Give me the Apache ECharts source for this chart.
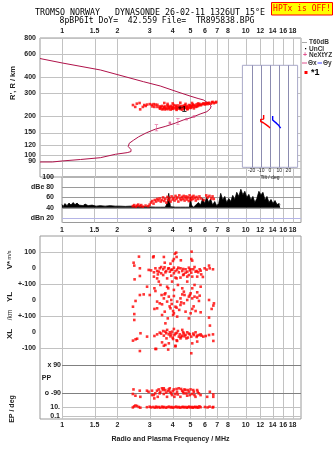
<!DOCTYPE html>
<html><head><meta charset="utf-8">
<script src="https://cdn.jsdelivr.net/npm/echarts@6/dist/echarts.min.js"></script>
<style>html,body{margin:0;padding:0;background:#fff}#c{width:335px;height:451px}</style>
</head><body><div id="c"></div>
<script>
// ---------- tick labels ----------
const freqTicks = [1,1.5,2,3,4,5,6,7,8,10,12,14,16,18];
const heightTicks = [800,600,400,300,200,150,120,100,90,80];
const dbTicks = [100,80,60,40,20];
const dbTickText = {100:'100',80:'dBe 80',60:'60',40:'40',20:'dBn 20'};
const tiltTicks = [-20,-10,0,10,20];
const bandTicks = [500,400,300,200,100,0,-100];
const bandTickText = {500:'100',400:'0',300:'+-100',200:'0',100:'+-100',0:'0','-100':'-100'};
const ppTicks = [90,-90];
const epTicks = [10,0.1];

// ---------- virtual height profile (freq MHz, height km) ----------
const profileFreq = [0.757,1.0,1.615,2.77,3.42,4.22,4.98,5.5,5.88,6.24,6.48,6.4,6.14,5.64,5.09,4.56,4.13,3.64,3.21,2.87,2.61,2.45,2.32,2.29,2.37,2.37,2.26,1.95,1.615,1.26,1.0,0.886,0.757];
const profileHeight = [556,514,454,369,342,309,286,274,267,253,240,228,217,208,196,187,177,167,159,149,139,131,124,117,111,107,105,102,96,93,90.6,89,89];

// NeXtYZ points
const nextyzBars = [[3.26,163],[4.27,182]];
const nextyzPts = [[3.86,178],[4.76,190],[5.22,199]];
const starPt = [[4.41,230]];

// echoes in upper panel (freq, km)
const echoHeights = [[2.43,244],[2.5,236],[2.55,250],[2.64,253],[2.66,226],[2.75,236],[2.85,240],
[2.8,244],[2.9,246],[3.0,248],[3.08,245],[3.15,248],[3.22,246],[3.3,245],
[3.1,238],[3.18,236],[3.3,236],[3.4,238],
[3.4,231],[3.45,235],[3.5,240],[3.55,228],[3.6,233],[3.65,238],[3.7,230],[3.75,242],[3.8,227],[3.85,235],[3.9,240],[3.95,229],[4.0,236],[4.05,244],[4.1,231],[4.15,238],[4.2,227],[4.25,234],[4.3,242],[4.35,229],[4.4,236],[4.45,240],[4.5,231],[4.55,237],[4.6,228],[4.65,243],[4.7,233],[4.75,239],[4.8,230],[4.85,236],[4.9,244],[4.95,232],[5.0,238],[5.05,241],[5.1,235],[5.15,246],[5.2,238],[5.3,242],[5.35,236],[5.4,247],[5.5,240],[5.55,244],[5.6,249],[5.7,243],[5.8,247],[5.9,251],[6.0,246],[6.1,252],[6.2,248],[6.3,254],[6.45,250],[6.55,256],[6.7,252],[6.85,255],[6.9,258],
[3.6,253],[3.75,249],[4.0,251],[4.4,254],[4.7,249],[5.1,253],[5.5,251],[6.6,258],
[3.5,226],[3.9,225],[4.2,224],[4.5,225],[4.8,226],[3.7,227],
[3.42,229],[3.62,226],[3.82,232],[4.02,228],[4.22,232],[4.42,227],[4.62,233],[4.82,228],[5.02,232],[5.22,230],[5.42,238],[3.58,236],[3.78,238],[3.98,233],[4.18,242],[4.38,234],[4.58,240],[4.78,236],[4.98,242],[5.18,244],[5.62,245],[5.85,250],[6.05,250],[6.25,252]];

// tilt inset (deg, km)
const tiltXDeg = [-6.9,-6.9,-10.1,-10.1,-7.2,-4.3,-1.8,0];
const tiltXHeight = [204,190,189,182,178,172,167,162];
const tiltYDeg = [2.9,2.9,4.3,7.2,9.4,11.6];
const tiltYHeight = [201,187,182,176,170,162];

// amplitude panel: noise envelope (freq, dB) and echo amplitude (freq, dB)
const noiseFreq = [1.0,1.013,1.038,1.065,1.092,1.12,1.148,1.178,1.208,1.239,1.27,1.302,1.336,1.387,1.458,1.533,1.613,1.717,1.83,1.948,2.074,2.21,2.35,2.505,2.667,2.84,3.025,3.22,3.43,3.65,3.75,3.81,3.84,3.89,4.14,4.41,4.7,4.94,5.0,5.07,5.2,5.33,5.53,5.68,5.83,5.98,6.13,6.29,6.44,6.61,6.78,6.95,7.13,7.31,7.5,7.69,7.88,8.09,8.29,8.5,8.72,8.94,9.17,9.41,9.65,9.89,10.14,10.4,10.67,10.94,11.22,11.5,11.8,12.1,12.41,12.73,13.05,13.39,13.73,14.08,14.44,14.8,15.18,15.43];
const noiseDb = [46,42,48,44,49,45,50,46,49,45,48,44,47,44,45,43,44,43,44,43,43,42.5,43,42,42,42,41.5,41,41,41,50,68,60,42,41,41,41,41,60,45,41,42,50,45,58,48,60,50,57,45,52,44,48,68,55,62,50,58,52,64,56,70,62,76,65,72,60,66,55,62,50,58,72,65,70,55,62,50,56,48,54,46,48,46];
const echoDb = [[2.43,43],[2.47,45],[2.52,42],[2.56,44],[2.6,46],[2.65,43],[2.7,45],[2.75,42],[2.85,44],[2.95,43],[3.0,46],[3.05,50],[3.1,53],[3.15,48],[3.2,55],[3.25,52],[3.3,57],[3.35,54],[3.4,58],[3.45,52],[3.5,55],[3.55,60],[3.6,53],[3.65,57],[3.7,50],[3.75,61],[3.8,55],[3.85,58],[3.9,52],[3.95,62],[4.0,56],[4.05,59],[4.1,54],[4.15,63],[4.2,57],[4.25,60],[4.3,52],[4.35,64],[4.4,58],[4.45,55],[4.5,61],[4.55,57],[4.6,63],[4.65,54],[4.7,59],[4.75,62],[4.8,56],[4.85,60],[4.9,53],[4.95,64],[5.0,58],[5.05,55],[5.1,61],[5.15,57],[5.2,63],[5.3,59],[5.35,54],[5.4,61],[5.5,57],[5.6,62],[5.7,58],[5.9,55],[6.1,64],[6.2,60],[6.35,63],[6.5,58],[6.6,62],[6.7,57]];

// lower panel: V* (m/s), YL (km), XL (km), PP (deg), EP (deg)
const vStar = [[5.07,102],[4.18,96],[2.45,33],[2.47,15],[2.62,71],[3.13,67],[3.58,69],[4.06,56],[4.01,44],[4.43,48],[5.05,56],[5.11,46],[3.62,33],[3.89,27],[6.31,15],[6.36,-2],[6.63,-8],[6.12,-10],[2.65,-2],[2.96,-12],[3.05,-15],[3.16,-27],[3.29,-19],[3.40,-2],[3.46,6],[3.55,-8],[3.61,4],[3.69,-19],[3.78,-4],[3.86,-23],[3.97,-10],[4.06,2],[4.14,-19],[4.23,-10],[4.32,-27],[4.41,-2],[4.51,-19],[4.60,-40],[4.70,-8],[4.80,-23],[4.90,2],[4.96,-15],[5.05,-29],[5.18,-8],[5.26,6],[5.40,-19],[5.51,-27],[5.61,-8],[5.72,-40],[5.84,-56],[5.97,-2],[3.16,-54],[3.29,-65],[3.55,-44],[3.73,-65],[3.93,-48],[4.14,-60],[4.41,-60],[4.80,-54],[5.11,-54],[5.44,-54],[3.32,-40],[3.46,-33],[4.56,-44],[4.90,-44],[2.48,-71],[2.65,-50],[3.36,-85],[3.97,-85],[4.20,-65],[4.80,-85],[4.11,89],[4.2,69],[3.15,73],[3.81,-2],[4.29,2],[4.56,-6],[5.33,-23],[3.93,-12],[3.65,-27],[3.22,-2],[3.36,-23],[4.70,-29],[5.01,-8],[5.68,-17],[4.06,-33]];
const yL = [[2.90,83],[3.00,31],[3.18,73],[3.22,56],[3.43,94],[3.61,35],[3.73,83],[3.78,73],[4.06,63],[4.27,94],[4.51,73],[4.60,52],[4.96,31],[5.11,73],[5.26,94],[5.68,83],[5.44,48],[2.65,31],[2.78,35],[2.51,-6],[3.48,31],[3.58,10],[3.65,42],[3.81,21],[3.93,0],[4.06,25],[4.23,-10],[4.41,10],[4.51,35],[4.64,31],[4.80,0],[4.90,21],[5.01,42],[5.11,10],[5.26,21],[5.44,15],[5.61,27],[6.31,0],[6.71,-21],[3.29,-10],[3.40,-21],[3.50,-27],[3.73,-10],[4.60,-21],[5.56,-6],[2.43,-42],[2.47,-88],[3.18,-56],[3.29,-52],[3.50,-94],[3.62,-73],[3.89,-52],[4.06,-83],[4.14,-42],[4.41,-31],[4.70,-73],[5.01,-83],[5.11,-56],[5.33,-69],[5.68,-77],[6.66,-35],[6.52,-56],[4.02,-69],[4.02,-94],[3.85,-40],[4.2,-48],[4.34,-62],[3.95,-25],[4.45,-15],[5.2,-40]];
const xL = [[2.67,-8],[2.43,-54],[2.51,-46],[2.56,-42],[2.90,-29],[3.18,-25],[3.29,-15],[3.40,-4],[3.46,-10],[3.58,-23],[3.65,2],[3.73,13],[3.81,-15],[3.89,-27],[3.97,2],[4.02,-44],[4.09,-19],[4.20,-6],[4.23,-56],[4.32,-29],[4.41,-40],[4.51,-23],[4.60,-10],[4.70,-19],[4.80,-2],[4.84,-35],[4.96,-15],[5.05,-29],[5.22,-19],[5.33,-2],[5.44,-23],[5.56,-19],[5.68,-15],[5.87,-29],[6.05,-25],[6.31,-19],[6.63,-15],[6.66,-56],[4.06,19],[4.51,13],[2.65,-119],[3.22,-106],[3.50,-65],[3.65,-81],[3.81,-71],[4.14,-86],[4.20,-52],[5.11,-71],[5.05,-133],[5.44,-60],[2.47,75],[3.65,54],[3.76,85],[4.23,96],[4.90,85],[6.31,90],[6.38,40],[3.55,6],[3.69,-8],[3.86,-2],[3.93,-15],[4.14,-10],[4.27,6],[4.37,-15],[4.56,-2],[4.64,-27],[4.90,-10],[5.18,-10],[5.40,-31],[5.74,-23],[3.25,-106],[3.58,-86],[3.78,-110],[4.14,-90],[4.0,-35],[4.45,-31],[4.75,-40],[3.7,-40]];
const ppDeg = [[2.45,-65],[2.43,-94],[2.51,-105],[2.65,-73],[2.67,-112],[2.90,-73],[2.96,-80],[3.09,-73],[3.16,-101],[3.18,-122],[3.29,-73],[3.36,-65],[3.43,-80],[3.50,-58],[3.58,-94],[3.65,-69],[3.73,-112],[3.81,-65],[3.89,-80],[3.97,-101],[4.06,-65],[4.14,-94],[4.23,-80],[4.32,-58],[4.41,-112],[4.51,-73],[4.60,-90],[4.70,-69],[4.80,-105],[4.90,-80],[5.01,-65],[5.11,-94],[5.22,-80],[5.33,-112],[5.44,-69],[5.56,-90],[5.68,-101],[6.17,-112],[6.38,-80],[6.66,-112],[6.66,-97],[3.40,-90],[3.55,-69],[3.69,-85],[3.86,-58],[3.93,-90],[4.02,-76],[4.20,-62],[4.27,-97],[4.45,-62],[4.56,-80],[4.64,-65],[4.75,-90],[4.84,-69],[4.96,-101],[5.18,-69],[5.26,-101],[5.48,-80],[3.09,-101],[3.22,-90],[3.32,-112],[3.58,-58],[3.78,-76],[4.09,-112]];
const epDeg = [[2.43,8],[2.47,14],[2.51,22],[2.56,17],[2.62,10],[2.67,7],[2.9,9],[3.0,12],[3.05,8],[3.13,10],[3.2,7],[3.25,12],[3.3,8],[3.36,10],[3.43,7],[3.5,12],[3.55,8],[3.6,10],[3.68,7],[3.75,9],[3.82,12],[3.9,8],[3.95,10],[4.02,7],[4.1,9],[4.18,12],[4.25,8],[4.32,10],[4.4,7],[4.48,9],[4.55,11],[4.62,8],[4.7,10],[4.78,7],[4.85,9],[4.92,12],[5.0,8],[5.08,10],[5.15,7],[5.22,9],[5.3,11],[5.38,8],[5.45,10],[5.52,7],[5.6,14],[5.68,9],[6.0,10],[6.2,8],[6.36,12],[6.6,8],[6.66,10]];

const bandOffsetV = 400, bandOffsetY = 200;

// ---------- chart ----------
const chart = echarts.init(document.getElementById('c'), null, {renderer:'canvas'});
const F = 'Liberation Sans';
const lab = (extra)=>Object.assign({fontSize:7, color:'#222', fontFamily:F, fontWeight:'bold'}, extra||{});
const pair = (a,b)=>a.map((v,i)=>[v,b[i]]);
// grid lines drawn through the axes' own scales (custom series)
const vLines = (xi, yi, vals, refY, color, z)=>({type:'custom', xAxisIndex:xi, yAxisIndex:yi, silent:true, z:z||1, clip:false,
  data: vals.map(v=>[v, refY]),
  renderItem:(params, api)=>{
    const cs = params.coordSys; const x = Math.round(api.coord([api.value(0), api.value(1)])[0]) + 0.5;
    return {type:'line', shape:{x1:x, y1:cs.y, x2:x, y2:cs.y+cs.height}, style:{stroke:color, lineWidth:1}};
  }});
const hLines = (xi, yi, vals, refX, color, z)=>({type:'custom', xAxisIndex:xi, yAxisIndex:yi, silent:true, z:z||1, clip:false,
  data: vals.map(v=>[refX, v]),
  renderItem:(params, api)=>{
    const cs = params.coordSys; const y = Math.round(api.coord([api.value(0), api.value(1)])[1]) + 0.5;
    return {type:'line', shape:{x1:cs.x, y1:y, x2:cs.x+cs.width, y2:y}, style:{stroke:color, lineWidth:1}};
  }});
const red = (xi, yi, data, extra)=>Object.assign({type:'scatter', xAxisIndex:xi, yAxisIndex:yi, data:data, symbol:'rect', symbolSize:2.6,
  itemStyle:{color:'#ff0000'}, silent:true, clip:false, z:3}, extra||{});
const hideAxis = {axisLine:{show:false}, axisTick:{show:false}, axisLabel:{show:false}, splitLine:{show:false}};
const LIGHT = '#c2c2c2';

const option = {
  animation:false,
  backgroundColor:'#ffffff',
  grid:[
    {left:40, top:38, width:261, height:139, show:true, borderColor:'#9a9a9a', borderWidth:1, z:0},
    {left:242.4, top:65.3, width:55.2, height:102, show:true, backgroundColor:'#ffffff', borderColor:'#a8a8c8', borderWidth:1, z:3},
    {left:62, top:177, width:239, height:45.5, show:true, borderColor:'#9a9a9a', borderWidth:1, z:0},
    {left:40, top:236, width:261, height:183, show:true, borderColor:'#9a9a9a', borderWidth:1, z:0},
    {left:62, top:236, width:239, height:183, show:false},
    {left:62, top:400, width:239, height:19, show:false}
  ],
  xAxis:[
    {gridIndex:0, type:'log', min:0.757, max:20, position:'top', axisLine:{show:false}, axisTick:{show:false}, splitLine:{show:false},
      axisLabel:lab({customValues:freqTicks, margin:3})},
    {gridIndex:1, type:'value', min:-30, max:30, axisLine:{show:false}, axisTick:{show:false}, splitLine:{show:false}, z:5,
      axisLabel:{customValues:tiltTicks, fontSize:5, margin:1, color:'#222', fontFamily:F},
      name:'Tilt / deg', nameLocation:'middle', nameGap:7.5, nameTextStyle:{fontSize:5, color:'#222', fontFamily:F}},
    {gridIndex:2, type:'log', min:1, max:20, axisLine:{show:false}, axisTick:{show:false}, splitLine:{show:false},
      axisLabel:lab({customValues:freqTicks, margin:4})},
    {gridIndex:3, type:'log', min:0.757, max:20, axisLine:{show:false}, axisTick:{show:false}, splitLine:{show:false},
      axisLabel:lab({customValues:freqTicks, margin:3}),
      name:'Radio and Plasma Frequency / MHz', nameLocation:'middle', nameGap:17, nameTextStyle:{fontSize:7, color:'#222', fontFamily:F, fontWeight:'bold'}},
    Object.assign({gridIndex:4, type:'log', min:1, max:20}, hideAxis),
    Object.assign({gridIndex:5, type:'log', min:1, max:20}, hideAxis)
  ],
  yAxis:[
    {gridIndex:0, type:'log', min:68.2, max:800, axisLine:{show:false}, axisTick:{show:false}, splitLine:{show:false},
      axisLabel:lab({customValues:heightTicks, margin:4})},
    Object.assign({gridIndex:1, type:'log', min:80.8, max:493}, hideAxis),
    {gridIndex:2, type:'value', min:11, max:100, axisLine:{show:false}, axisTick:{show:false}, splitLine:{show:false},
      axisLabel:lab({customValues:dbTicks, margin:8, formatter:v=>dbTickText[v]})},
    {gridIndex:3, type:'value', min:-544, max:600, axisLine:{show:false}, axisTick:{show:false}, splitLine:{show:false},
      axisLabel:lab({customValues:bandTicks, margin:4, formatter:v=>bandTickText[v]})},
    {gridIndex:4, type:'value', min:-253, max:910, axisLine:{show:false}, axisTick:{show:false}, splitLine:{show:false},
      axisLabel:lab({customValues:ppTicks, margin:1, formatter:v=>v>0?'x 90':'o -90'})},
    {gridIndex:5, type:'log', min:0.0174, max:406, axisLine:{show:false}, axisTick:{show:false}, splitLine:{show:false},
      axisLabel:lab({customValues:epTicks, margin:2, formatter:v=>v>=1?'10.':'0.1'})}
  ],
  series:[
    // grid lines
    vLines(0,0,freqTicks,200,LIGHT,1),
    hLines(0,0,heightTicks,2,LIGHT,1),
    vLines(1,1,tiltTicks,200,'#8c8cb0',4),
    vLines(2,2,freqTicks,50,LIGHT,1),
    hLines(2,2,[80,60,40],2,'#9a9a9a',1),
    hLines(2,2,[20],2,'#b4b4e6',1),
    vLines(3,3,freqTicks,0,LIGHT,1),
    hLines(3,3,[500,300,100,-100],2,LIGHT,1),
    hLines(4,4,ppTicks,2,'#808080',2),
    hLines(5,5,epTicks,2,LIGHT,1),
    // profile
    {type:'line', xAxisIndex:0, yAxisIndex:0, data:pair(profileFreq, profileHeight), showSymbol:false, symbol:'none',
      lineStyle:{color:'#b0124a', width:1}, silent:true, z:2},
    red(0,0,echoHeights),
    {type:'scatter', xAxisIndex:0, yAxisIndex:0, data:nextyzBars, symbol:'path://M0,0h5v1h-2v8h2v1h-5v-1h2v-8h-2z', symbolSize:[3.5,7],
      itemStyle:{color:'#e0508c'}, silent:true, z:4},
    {type:'scatter', xAxisIndex:0, yAxisIndex:0, data:nextyzPts, symbol:'rect', symbolSize:2.5,
      itemStyle:{color:'#e0508c'}, silent:true, z:4},
    {type:'scatter', xAxisIndex:0, yAxisIndex:0, data:starPt, symbolSize:0, silent:true, z:5,
      label:{show:true, position:'inside', formatter:'*1', fontSize:9, fontWeight:'bold', color:'#000', fontFamily:F, offset:[2,1]}},
    // tilt inset
    {type:'line', xAxisIndex:1, yAxisIndex:1, data:pair(tiltXDeg, tiltXHeight), showSymbol:false, symbol:'none',
      lineStyle:{color:'#ff0000', width:1.4}, silent:true, z:5},
    {type:'line', xAxisIndex:1, yAxisIndex:1, data:pair(tiltYDeg, tiltYHeight), showSymbol:false, symbol:'none',
      lineStyle:{color:'#0000ff', width:1.4}, silent:true, z:5},
    // amplitude panel
    {type:'line', xAxisIndex:2, yAxisIndex:2, data:pair(noiseFreq, noiseDb), showSymbol:false, symbol:'none',
      lineStyle:{color:'#000', width:0.8}, areaStyle:{color:'#000', opacity:1, origin:40}, silent:true, z:2},
    red(2,2,echoDb),
    // lower panel
    red(3,3,vStar.map(p=>[p[0], p[1]+bandOffsetV])),
    red(3,3,yL.map(p=>[p[0], p[1]+bandOffsetY])),
    red(3,3,xL),
    red(4,4,ppDeg),
    red(5,5,epDeg)
  ],
  graphic:[
    {type:'text', x:150, y:12.5, style:{text:'TROMSO NORWAY   DYNASONDE 26-02-11 1326UT 15°E', font:'8.3px "DejaVu Sans Mono"', fill:'#000', align:'center', verticalAlign:'middle'}},
    {type:'text', x:157, y:20.5, style:{text:'8pBP6It DoY=  42.559 File=  TR895838.BPG', font:'8.1px "DejaVu Sans Mono"', fill:'#000', align:'center', verticalAlign:'middle'}},
    {type:'rect', shape:{x:271.5, y:2.5, width:61, height:12.5}, style:{fill:'#ffff00', stroke:'#ff0000', lineWidth:1}},
    {type:'text', x:302, y:9, style:{text:'HPTx is OFF!', font:'8px "DejaVu Sans Mono"', fill:'#ff0000', align:'center', verticalAlign:'middle'}},
    // legend
    {type:'line', shape:{x1:302, y1:42.5, x2:307, y2:42.5}, style:{stroke:'#aaaaaa', lineWidth:1}},
    {type:'text', x:309, y:42.5, style:{text:'T60dB', font:'bold 6.5px "Liberation Sans"', fill:'#333', verticalAlign:'middle'}},
    {type:'rect', shape:{x:305, y:48, width:1.2, height:1.2}, style:{fill:'#000'}},
    {type:'text', x:309, y:49, style:{text:'UnCl', font:'bold 6.5px "Liberation Sans"', fill:'#333', verticalAlign:'middle'}},
    {type:'text', x:305, y:55.5, style:{text:'+', font:'bold 7px "Liberation Sans"', fill:'#e0508c', align:'center', verticalAlign:'middle'}},
    {type:'text', x:309, y:55.5, style:{text:'NeXtYZ', font:'bold 6.5px "Liberation Sans"', fill:'#333', verticalAlign:'middle'}},
    {type:'line', shape:{x1:302, y1:63, x2:307, y2:63}, style:{stroke:'#e0508c', lineWidth:1}},
    {type:'text', x:308, y:63, style:{text:'Θx', font:'bold 6.5px "Liberation Sans"', fill:'#333', verticalAlign:'middle'}},
    {type:'line', shape:{x1:317.5, y1:63, x2:322, y2:63}, style:{stroke:'#4040ff', lineWidth:1}},
    {type:'text', x:323, y:63, style:{text:'Θy', font:'bold 6.5px "Liberation Sans"', fill:'#333', verticalAlign:'middle'}},
    {type:'rect', shape:{x:304.5, y:71, width:3, height:3}, style:{fill:'#ff0000'}},
    {type:'text', x:311, y:73, style:{text:'*1', font:'bold 9px "Liberation Sans"', fill:'#000', verticalAlign:'middle'}},
    // side labels
    {type:'text', x:13, y:83, rotation:Math.PI/2, style:{text:"R', R / km", font:'bold 7.5px "Liberation Sans"', fill:'#222', align:'center', verticalAlign:'middle'}},
    {type:'text', x:9.5, y:265, rotation:Math.PI/2, style:{text:'V*', font:'bold 8px "Liberation Sans"', fill:'#222', align:'center', verticalAlign:'middle'}},
    {type:'text', x:9.5, y:255, rotation:Math.PI/2, style:{text:'m/s', font:'5.5px "Liberation Sans"', fill:'#222', align:'center', verticalAlign:'middle'}},
    {type:'text', x:9.5, y:297, rotation:Math.PI/2, style:{text:'YL', font:'bold 8px "Liberation Sans"', fill:'#222', align:'center', verticalAlign:'middle'}},
    {type:'text', x:10, y:315, rotation:Math.PI/2, style:{text:'/km', font:'6.5px "Liberation Sans"', fill:'#222', align:'center', verticalAlign:'middle'}},
    {type:'text', x:9.5, y:334, rotation:Math.PI/2, style:{text:'XL', font:'bold 8px "Liberation Sans"', fill:'#222', align:'center', verticalAlign:'middle'}},
    {type:'text', x:46.5, y:378, style:{text:'PP', font:'bold 7px "Liberation Sans"', fill:'#222', align:'center', verticalAlign:'middle'}},
    {type:'text', x:12, y:409, rotation:Math.PI/2, style:{text:'EP / deg', font:'bold 7px "Liberation Sans"', fill:'#222', align:'center', verticalAlign:'middle'}}
  ]
};
chart.setOption(option);
</script></body></html>
